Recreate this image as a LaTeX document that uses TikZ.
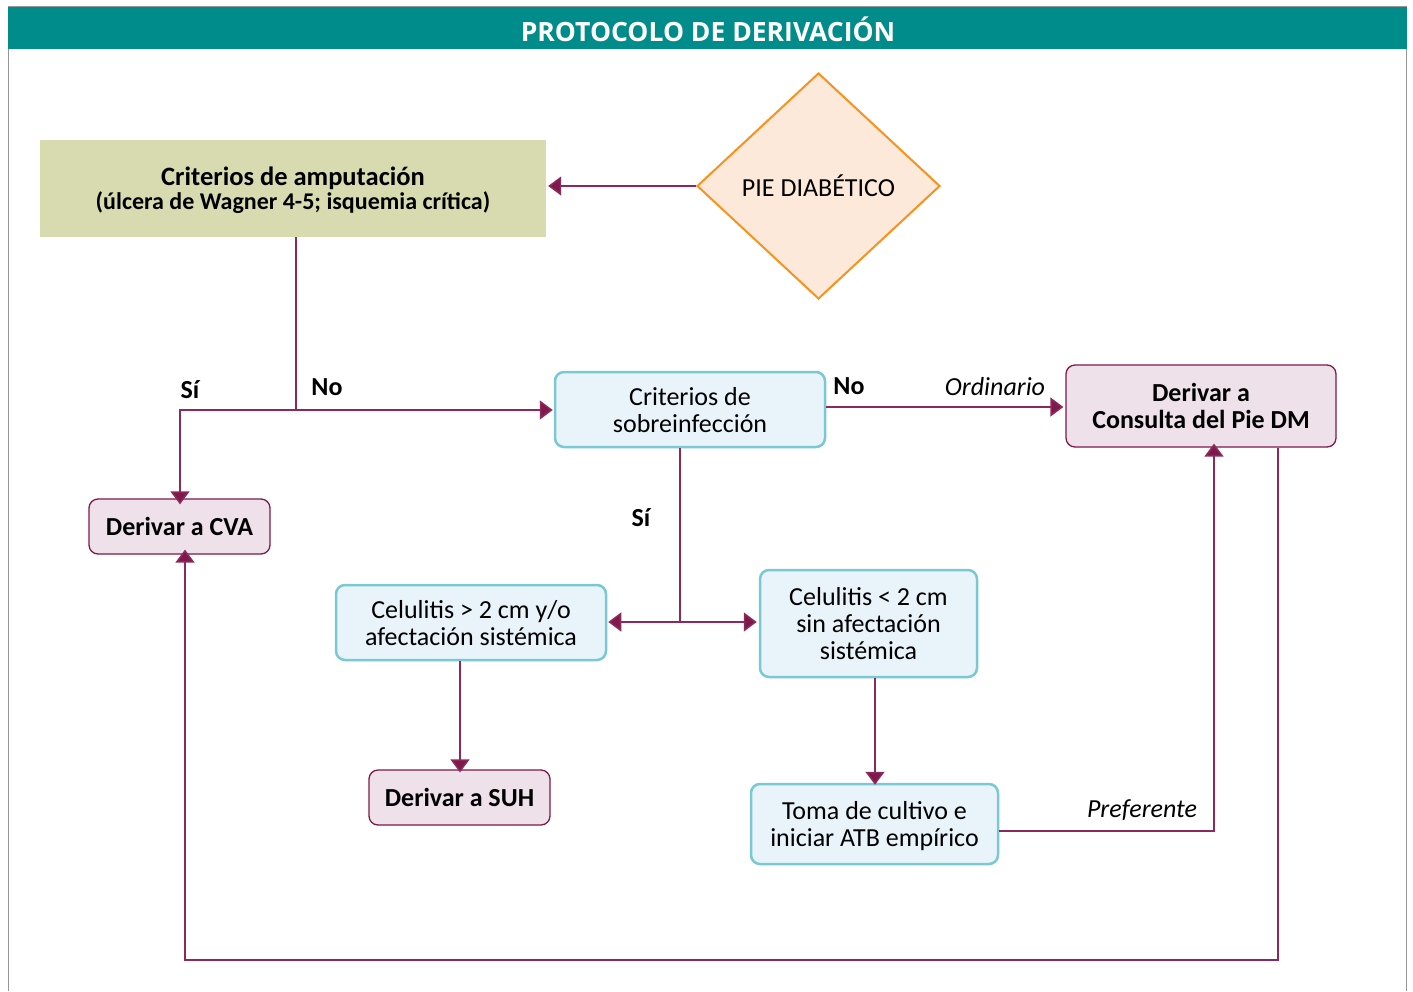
\documentclass[tikz,border=0pt]{standalone}
\usepackage{fontspec}
\setmainfont{Carlito}
\newfontfamily\titlefont{Open Sans}
\usetikzlibrary{arrows.meta,shapes.geometric}
\definecolor{teal1}{RGB}{0,140,138}
\definecolor{olive1}{RGB}{216,219,176}
\definecolor{peach}{RGB}{253,233,217}
\definecolor{orange1}{RGB}{247,146,30}
\definecolor{lblue}{RGB}{232,244,249}
\definecolor{cyanb}{RGB}{122,200,212}
\definecolor{lpink}{RGB}{238,225,234}
\definecolor{plum}{RGB}{125,25,75}
\definecolor{lineplum}{RGB}{140,40,90}
\definecolor{frame}{RGB}{150,150,150}
\tikzset{
  txt/.style={font=\fontsize{26}{27}\selectfont, align=center, inner sep=0pt},
  bluebox/.style={draw=cyanb, line width=2.5pt, fill=lblue, rounded corners=9pt, txt, text depth=0pt},
  pinkbox/.style={draw=plum, line width=1.3pt, fill=lpink, rounded corners=9pt, txt, font=\fontsize{26}{27}\selectfont\bfseries},
  conn/.style={draw=lineplum, line width=1.6pt, -{Triangle[length=13pt,width=19pt,fill=plum]}},
  plain/.style={draw=lineplum, line width=1.6pt},
  lbl/.style={font=\fontsize{26}{27}\selectfont\bfseries, inner sep=0pt},
  ilbl/.style={font=\fontsize{26}{27}\selectfont\itshape, inner sep=0pt},
}
\begin{document}
\begin{tikzpicture}[x=1pt,y=-1pt]
\useasboundingbox (0,0) rectangle (1413,991);
\fill[white] (0,0) rectangle (1413,991);
% frame
\draw[frame, line width=1.5pt] (8.5,991) -- (8.5,6.5) -- (1406.5,6.5) -- (1406.5,991);
\fill[teal1] (8,7) rectangle (1407,49);
\node[font=\titlefont\fontsize{26.5}{28}\selectfont\bfseries, text=white, inner sep=0pt] (title) at (708,29) {PROTOCOLO DE DERIVACIÓN};

% nodes
\node[fill=olive1, minimum width=506pt, minimum height=97pt, inner sep=0pt, align=center, text depth=0pt] (amp) at (293,188.5)
  {{\fontsize{26.5}{25}\selectfont\bfseries Criterios de amputación}\\[1pt]{\fontsize{24}{25}\selectfont\bfseries (úlcera de Wagner 4-5; isquemia crítica)}};
\node[diamond, draw=orange1, line width=2pt, fill=peach, minimum width=243pt, minimum height=226pt, inner sep=0pt, txt] (pie) at (818.5,186) {PIE DIABÉTICO};

\node[bluebox, minimum width=270pt, minimum height=75pt] (sob) at (690,409.5) {Criterios de\\sobreinfección};
\node[pinkbox, minimum width=270pt, minimum height=82pt, text depth=0pt] (dm) at (1201,406) {Derivar a\\Consulta del Pie DM};
\node[pinkbox, minimum width=181pt, minimum height=55pt] (cva) at (179.5,526.5) {Derivar a CVA};
\node[bluebox, minimum width=270pt, minimum height=75pt] (c1) at (471,622.5) {Celulitis > 2 cm y/o\\afectación sistémica};
\node[bluebox, minimum width=217pt, minimum height=107pt] (c2) at (868.5,623.5) {Celulitis < 2 cm\\sin afectación\\sistémica};
\node[pinkbox, minimum width=181pt, minimum height=55pt] (suh) at (459.5,797.5) {Derivar a SUH};
\node[bluebox, minimum width=247pt, minimum height=80pt] (toma) at (874.5,824) {Toma de cultivo e\\iniciar ATB empírico};

% coordinates
\coordinate (j1) at (296,410);
\coordinate (j2) at (680,622);

% connectors
\draw[conn] (pie.west) -- ([xshift=2pt]amp.east |- pie.west);
\draw[plain] (amp.south -| j1) -- (j1);
\draw[conn] (180,410) -- ([xshift=-1pt]sob.west |- j1);
\draw[conn] (j1) -| ([yshift=-6pt]cva.north -| 180,0);
\draw[conn] (sob.east |- 0,407) -- ([xshift=-2pt]dm.west |- 0,407);
\draw[plain] (sob.south -| j2) -- (j2);
\draw[conn] (j2) -- ([xshift=1pt]c1.east |- j2);
\draw[conn] (j2) -- ([xshift=-2pt]c2.west |- j2);
\draw[conn] (c1.south -| 460,0) -- ([yshift=-3pt]suh.north -| 460,0);
\draw[conn] (c2.south -| 875,0) -- ([yshift=-2pt]toma.north -| 875,0);
\draw[conn] (toma.east |- 0,831) -| ([yshift=4pt]dm.south -| 1214,0);
\draw[conn] (dm.south -| 1278,0) |- (185,960) -- ([yshift=5pt]cva.south -| 185,0);

% labels
\node[lbl] (si1) at (190,390) {Sí};
\node[lbl] (no1) at (327,387) {No};
\node[lbl] (no2) at (849,386) {No};
\node[ilbl] (ord) at (995,387) {Ordinario};
\node[lbl] (si2) at (641,518) {Sí};
\node[ilbl] (pref) at (1142,810) {Preferente};
\end{tikzpicture}
\end{document}
